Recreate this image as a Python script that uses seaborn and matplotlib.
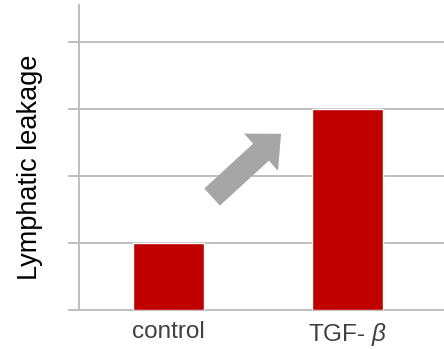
import matplotlib
matplotlib.use("Agg")
import matplotlib.pyplot as plt
import seaborn as sns
import pandas as pd
from matplotlib.patches import FancyArrowPatch

# data
groups = ["control", "TGF- $\\beta$"]
leakage = [1.0, 3.0]
y_ticks = [0, 1, 2, 3, 4]

df = pd.DataFrame({"group": groups, "leakage": leakage})

sns.set_style("white")
plt.rcParams["font.family"] = ["Liberation Sans", "DejaVu Sans"]
plt.rcParams["mathtext.fontset"] = "custom"
plt.rcParams["mathtext.it"] = "Liberation Sans:italic"

grid_c = "#BFBFBF"
fig = plt.figure(figsize=(4.44, 3.49), dpi=100)
ax = fig.add_axes([0.178, 0.1117, 0.822, 0.874])

sns.barplot(data=df, x="group", y="leakage", color="#C00000", width=0.4,
            saturation=1, ax=ax, zorder=3)

ax.set_xlim(-0.5, 1.539)
ax.set_ylim(0, 4.55)
ax.set_yticks(y_ticks)
ax.set_yticklabels([])
ax.yaxis.grid(True, color=grid_c, linewidth=1.4, zorder=0)
ax.set_axisbelow(True)

# category separators as minor ticks below the axis
ax.set_xticks([-0.5, 0.5, 1.5], minor=True)
ax.tick_params(axis="x", which="major", length=0, pad=8, labelsize=17.5,
               labelcolor="#404040")
ax.tick_params(axis="x", which="minor", length=7, width=1.4, color=grid_c,
               direction="out")
ax.tick_params(axis="y", which="major", length=8, width=1.4, color=grid_c,
               direction="out", left=True)

for s in ["top", "right"]:
    ax.spines[s].set_visible(False)
for s in ["left", "bottom"]:
    ax.spines[s].set_color(grid_c)
    ax.spines[s].set_linewidth(1.4)

ax.set_xlabel("")
ax.set_ylabel("Lymphatic leakage", fontsize=19.5, color="black")
ax.yaxis.set_label_coords(-0.1, 0.469)

# grey "increase" arrow
arrow = FancyArrowPatch((0.232, 1.657), (0.640, 2.657),
                        arrowstyle="simple,head_length=1.35,head_width=2.5,tail_width=1.15",
                        mutation_scale=14.5, color="#A6A6A6", lw=0, zorder=4)
ax.add_patch(arrow)

fig.savefig("out.png", dpi=100)
